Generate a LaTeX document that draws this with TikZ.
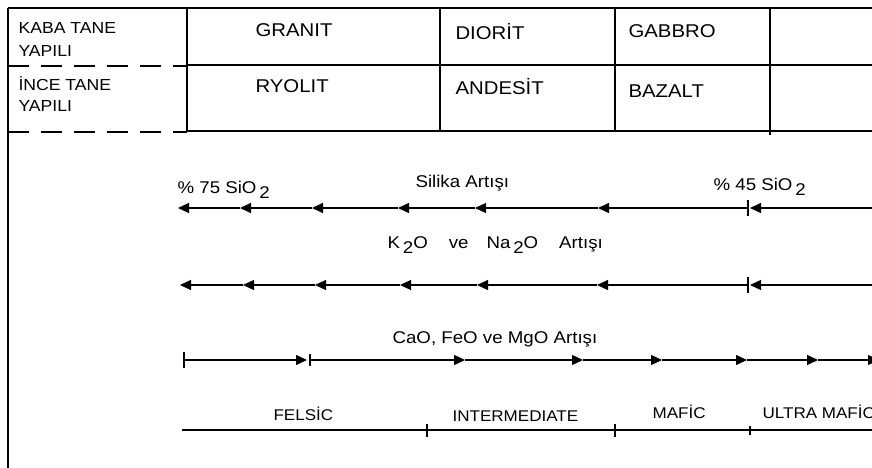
\documentclass[tikz,border=0pt]{standalone}
\usepackage{fontspec}
\setmainfont[FakeStretch=1.1]{Liberation Sans}
\usetikzlibrary{arrows.meta}
\newcommand\lowdigit[1]{\,\raisebox{-5pt}{#1}}

\begin{document}
\begin{tikzpicture}[x=1pt,y=-1pt,line width=1.1pt,
	rockname/.style={anchor=base west,inner sep=0pt,font=\fontsize{18.5}{22}\selectfont},
	rowname/.style={anchor=base west,inner sep=0pt,font=\fontsize{16}{20}\selectfont},
	trendname/.style={anchor=base west,inner sep=0pt,font=\fontsize{17}{20}\selectfont},
	groupname/.style={anchor=base west,inner sep=0pt,font=\fontsize{15.5}{18}\selectfont},
	tipleft/.style={-{Triangle[length=11pt,width=10pt]}},
	tipright/.style={-{Triangle[length=11pt,width=10pt]}},
	gap/.style={dash pattern=on 21pt off 12pt}]
	\useasboundingbox (0,0) rectangle (872,468);
	\clip (0,0) rectangle (872,468);
	% Define the table
	\draw (8,8) -- (872,8);
	\draw (8,8) -- (8,468);
	\foreach \x in {187,440,615} \draw (\x,8) -- (\x,131);
	\draw (770,8) -- (770,135);
	\draw (187,65) -- (872,65);
	\draw (187,131) -- (872,131);
	\draw[gap] (8,66) -- (187,66);
	\draw[gap] (8,132) -- (187,132);
	% Add labels to the cells
	\node[rowname] (kaba) at (18,34) {KABA TANE};
	\node[rowname] (kabay) at (18,57) {YAPILI};
	\node[rowname] (ince) at (18,91) {İNCE TANE};
	\node[rowname] (incey) at (18,112) {YAPILI};
	\node[rockname] (granit) at (255,37) {GRANIT};
	\node[rockname] (diorit) at (455,40) {DIORİT};
	\node[rockname] (gabbro) at (628,38) {GABBRO};
	\node[rockname] (ryolit) at (255,93) {RYOLIT};
	\node[rockname] (andesit) at (455,95) {ANDESİT};
	\node[rockname] (bazalt) at (628,98) {BAZALT};
	% Silika
	\node[trendname] (si75) at (177,193) {\% 75 SiO\lowdigit{2}};
	\node[trendname] (silika) at (415,187) {Silika Artışı};
	\node[trendname] (si45) at (713,190) {\% 45 SiO\lowdigit{2}};
	\foreach \a/\b in {872/750,748/598,598/475,475/398,398/312,312/240,240/178}
		\draw[tipleft] (\a,208) -- (\b,208);
	\draw (748,200) -- (748,216);
	% Alkali
	\node[trendname] (alkali) at (387,248) {K\lowdigit{2}O\hspace{21pt}ve\hspace{18pt}Na\lowdigit{2}O\hspace{21pt}Artışı};
	\foreach \a/\b in {872/750,748/597,597/477,477/400,400/315,315/243,243/180}
		\draw[tipleft] (\a,285) -- (\b,285);
	\draw (748,277) -- (748,293);
	% CaO FeO MgO
	\node[trendname] (mafik) at (392,343) {CaO, FeO ve MgO Artışı};
	\foreach \a/\b in {184/307,310/465,465/583,583/662,662/747,747/818,818/879}
		\draw[tipright] (\a,360) -- (\b,360);
	\draw (184,352) -- (184,368);
	\draw (310,354) -- (310,366);
	% Groups
	\node[groupname] (felsic) at (273,420) {FELSİC};
	\node[groupname] (inter) at (452,421) {INTERMEDIATE};
	\node[groupname] (mafic) at (652,418) {MAFİC};
	\node[groupname] (ultra) at (762,418) {ULTRA MAFİC};
	\draw (182,430) -- (872,430);
	\foreach \x in {427,615} \draw (\x,424) -- (\x,437);
	\draw (750,426) -- (750,435);
\end{tikzpicture}
\end{document}
